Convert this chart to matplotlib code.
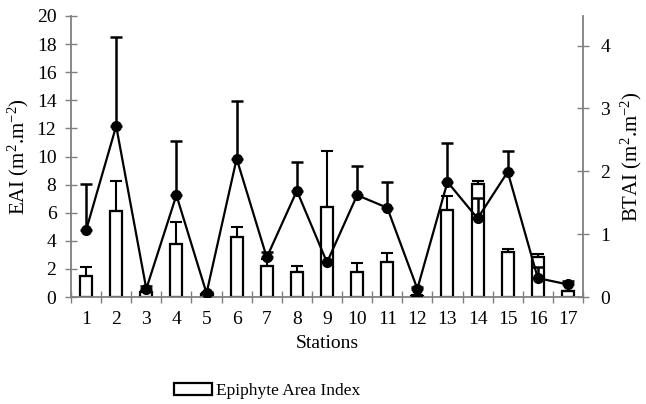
import matplotlib
matplotlib.use("Agg")
import matplotlib.pyplot as plt
import numpy as np
from matplotlib.ticker import FixedLocator

plt.rcParams['font.family'] = ['Liberation Serif', 'DejaVu Serif']
plt.rcParams['mathtext.fontset'] = 'custom'
plt.rcParams['mathtext.rm'] = 'Liberation Serif'
plt.rcParams['mathtext.it'] = 'Liberation Serif:italic'
plt.rcParams['mathtext.bf'] = 'Liberation Serif:bold'

stations = [str(i) for i in range(1, 18)]
eai = [1.52, 6.14, 0.33, 3.79, 0.2, 4.27, 2.18, 1.75, 6.43, 1.75, 2.49, 0.1, 6.16, 8.04, 3.2, 2.82, 0.4]
eai_err = [0.59, 2.09, 0.1, 1.55, 0.05, 0.73, 0.5, 0.43, 3.98, 0.67, 0.64, 0.05, 1.05, 0.19, 0.24, 0.24, 0.05]
btai = [1.06, 2.72, 0.13, 1.62, 0.06, 2.20, 0.63, 1.69, 0.55, 1.62, 1.42, 0.13, 1.83, 1.25, 1.99, 0.30, 0.20]
btai_err = [0.74, 1.42, 0.05, 0.86, 0.02, 0.91, 0.08, 0.45, 0.0, 0.47, 0.41, 0.03, 0.62, 0.32, 0.34, 0.17, 0.05]

x = np.arange(1, len(stations) + 1)
grey = '#808080'

fig = plt.figure(figsize=(6.46, 4.04), dpi=100)
ax = fig.add_axes([71/646, 1 - 297/404, (583-71)/646, (297-16)/404])

bars = ax.bar(x, eai, width=0.4, color='white', edgecolor='black', linewidth=1.6,
              label='Epiphyte Area Index', zorder=2)
ax.errorbar(x, eai, yerr=[np.zeros(len(eai)), eai_err], fmt='none', ecolor='black',
            elinewidth=1.5, capsize=4, capthick=1.5, zorder=3)
ax.set_xlim(0.5, 17.5)
ax.set_ylim(0, 20)
ax.set_yticks(np.arange(0, 21, 2))
ax.set_xticks(x)
ax.set_xticklabels(stations)
ax.xaxis.set_minor_locator(FixedLocator(np.arange(0.5, 18, 1)))
ax.tick_params(axis='x', which='major', length=0, pad=10, labelsize=14)
ax.tick_params(axis='x', which='minor', direction='inout', length=8, color=grey, width=1)
ax.tick_params(axis='y', direction='inout', length=9, color=grey, width=1, pad=6, labelsize=14)
for s in ['top', 'right']:
    ax.spines[s].set_visible(False)
for s in ['left', 'bottom']:
    ax.spines[s].set_color(grey)
    ax.spines[s].set_linewidth(1.3)
ax.set_ylabel('EAI (m$^{2}$.m$^{\\mathrm{-2}}$)', fontsize=15, labelpad=4)
ax.set_xlabel('Stations', fontsize=14, labelpad=5)

ax2 = ax.twinx()
ax2.plot(x, btai, color='black', marker='o', markersize=7, linewidth=1.6, zorder=4)
ax2.errorbar(x, btai, yerr=[np.zeros(len(btai)), btai_err], fmt='none', ecolor='black',
             elinewidth=1.8, capsize=4.5, capthick=1.8, zorder=3)
ax2.set_ylim(0, 4.47)
ax2.set_yticks([0, 1, 2, 3, 4])
ax2.tick_params(axis='y', direction='inout', length=9, color=grey, width=1, pad=8, labelsize=14)
for s in ['top', 'left', 'bottom']:
    ax2.spines[s].set_visible(False)
ax2.spines['right'].set_color(grey)
ax2.spines['right'].set_linewidth(1.3)
ax2.set_ylabel('BTAI (m$^{2}$.m$^{\\mathrm{-2}}$)', fontsize=15, labelpad=6)

fig.legend(handles=[bars], labels=['Epiphyte Area Index'], loc='center',
           bbox_to_anchor=(267/646, 1 - 391/404), frameon=False, fontsize=12.5,
           handlelength=2.2, handleheight=0.7, handletextpad=0.2)

fig.savefig('out.png', dpi=100)
